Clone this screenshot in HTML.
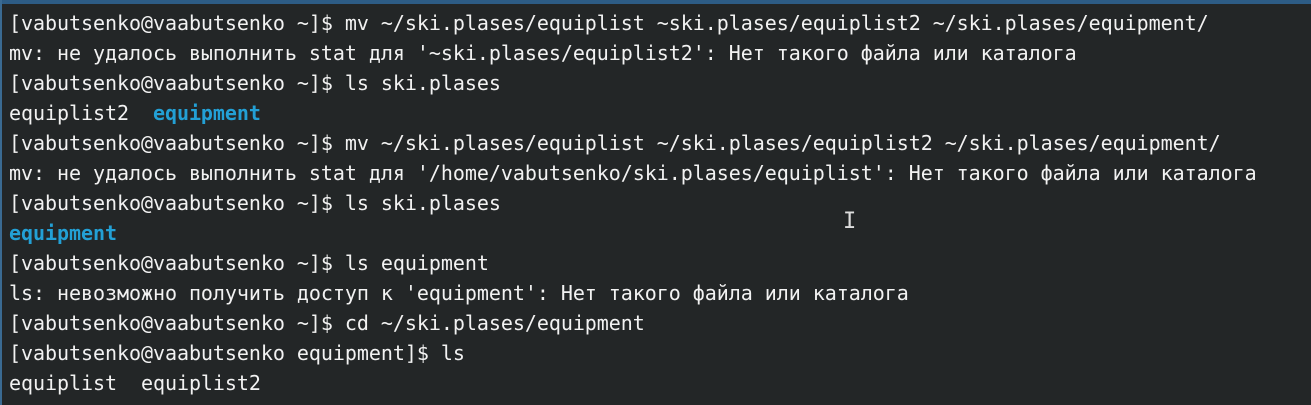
<!DOCTYPE html>
<html><head><meta charset="utf-8"><style>
html,body{margin:0;padding:0;}
body{width:1311px;height:405px;background:#232627;overflow:hidden;position:relative;}
.top{position:absolute;left:0;top:0;width:1311px;height:4px;background:#2d5c85;}
.left{position:absolute;left:0;top:0;width:2px;height:405px;background:#3a6a92;}
pre{position:absolute;left:9px;top:8px;margin:0;font-family:"DejaVu Sans Mono","Liberation Mono",monospace;font-size:20px;line-height:30px;color:#f2f2f2;letter-spacing:-0.045px;}
b{color:#23a0d5;}
.cur{position:absolute;left:843px;top:210px;color:#ddd;font:22px "DejaVu Sans Mono",monospace;line-height:24px;}
</style></head><body>
<div class="top"></div><div class="left"></div>
<pre>[vabutsenko@vaabutsenko ~]$ mv ~/ski.plases/equiplist ~ski.plases/equiplist2 ~/ski.plases/equipment/
mv: не удалось выполнить stat для '~ski.plases/equiplist2': Нет такого файла или каталога
[vabutsenko@vaabutsenko ~]$ ls ski.plases
equiplist2  <b>equipment</b>
[vabutsenko@vaabutsenko ~]$ mv ~/ski.plases/equiplist ~/ski.plases/equiplist2 ~/ski.plases/equipment/
mv: не удалось выполнить stat для '/home/vabutsenko/ski.plases/equiplist': Нет такого файла или каталога
[vabutsenko@vaabutsenko ~]$ ls ski.plases
<b>equipment</b>
[vabutsenko@vaabutsenko ~]$ ls equipment
ls: невозможно получить доступ к 'equipment': Нет такого файла или каталога
[vabutsenko@vaabutsenko ~]$ cd ~/ski.plases/equipment
[vabutsenko@vaabutsenko equipment]$ ls
equiplist  equiplist2</pre>
<div class="cur">I</div>
</body></html>
